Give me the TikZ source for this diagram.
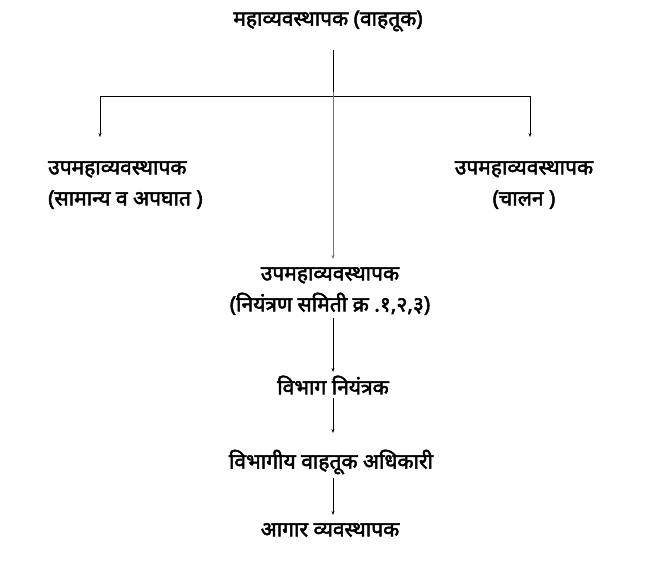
\documentclass[tikz,border=0pt]{standalone}
\usepackage{fontspec}
\setmainfont[Script=Devanagari]{Noto Sans}
\newfontfamily\devb[Script=Devanagari, FakeBold=2.4]{Noto Sans}
\usetikzlibrary{arrows.meta}
\begin{document}
\begin{tikzpicture}[x=1pt,y=-1pt,
  lbl/.style={font=\devb\fontsize{21}{31}\selectfont, inner sep=0pt, align=center},
  conn/.style={line width=0.7pt, -{Stealth[length=4pt,width=3pt]}},
  plain/.style={line width=0.7pt}]
\useasboundingbox (0,0) rectangle (670,571);
\node[lbl] (gm) at (328,21) {महाव्यवस्थापक (वाहतूक)};
\node[lbl, align=left, anchor=west] (left) at (48,185) {उपमहाव्यवस्थापक\\(सामान्य व अपघात )};
\node[lbl] (right) at (524,185) {उपमहाव्यवस्थापक\\(चालन  )};
\node[lbl] (mid) at (330,291) {उपमहाव्यवस्थापक\\(नियंत्रण समिती क्र .१,२,३)};
\node[lbl] (vn) at (333,385) {विभाग नियंत्रक};
\node[lbl] (vva) at (331,462) {विभागीय वाहतूक अधिकारी};
\node[lbl] (av) at (330,530) {आगार व्यवस्थापक};
\coordinate (top) at (333,50);
\coordinate (jl) at (100,96);
\coordinate (jr) at (530,96);
\coordinate (la) at (100,137);
\coordinate (ra) at (530,137);
\draw[plain] (jl) -- (jr);
\draw[conn] (jl) -- (la);
\draw[conn] (jr) -- (ra);
\draw[conn, black!55] (top) -- (333,259);
\draw[plain] (top) -- (333,92);
\draw[conn] (333,318) -- (333,372);
\draw[conn] (333,398) -- (333,433);
\draw[conn] (333,478) -- (333,515);
\end{tikzpicture}
\end{document}
